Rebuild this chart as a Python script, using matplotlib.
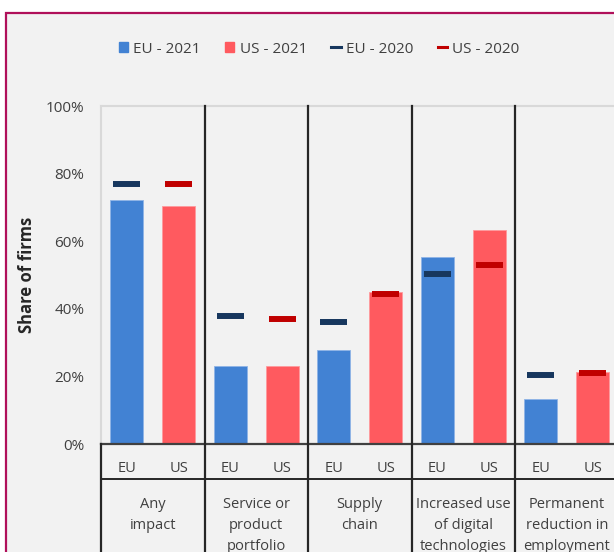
import matplotlib.pyplot as plt
import matplotlib.transforms as mtransforms
from matplotlib.patches import Patch, Rectangle
from matplotlib.lines import Line2D

groups = ["Any\nimpact", "Service or\nproduct\nportfolio", "Supply\nchain",
          "Increased use\nof digital\ntechnologies", "Permanent\nreduction in\nemployment"]
regions = ["EU", "US"]
eu_2021 = [72.2, 23.0, 27.8, 55.2, 13.2]
us_2021 = [70.3, 23.0, 45.0, 63.3, 21.3]
eu_2020 = [76.9, 37.9, 36.2, 50.3, 20.3]
us_2020 = [77.0, 37.0, 44.3, 53.0, 21.0]

c_eu21 = "#4282d3"
c_us21 = "#ff5a5f"
c_eu20 = "#17375e"
c_us20 = "#c00000"
bg = "#f2f2f2"
txt = "#404040"

plt.rcParams['font.family'] = ['Open Sans', 'DejaVu Sans']

W, H = 614, 552
fig = plt.figure(figsize=(W / 100, H / 100), dpi=100, facecolor="white")

# grey panel with the coloured frame (cropped at right / bottom)
fig.patches.append(Rectangle((5.5 / W, -0.1), 1.2, 1 - 12.5 / H + 0.1, transform=fig.transFigure,
                             facecolor=bg, edgecolor="#b0105a", lw=1.6, zorder=-10))

ax = fig.add_axes([101 / W, (H - 444) / H, (618.5 - 101) / W, (444 - 106) / H])
ax.set_facecolor(bg)

n = len(groups)
xe = [i + 0.25 for i in range(n)]
xu = [i + 0.75 for i in range(n)]
bw = 0.32
mw = 0.26

ax.bar(xe, eu_2021, bw, color=c_eu21, edgecolor="#8fb4e6", lw=0.6, zorder=2)
ax.bar(xu, us_2021, bw, color=c_us21, edgecolor="#ff9a9d", lw=0.6, zorder=2)
ax.hlines(eu_2020, [x - mw / 2 for x in xe], [x + mw / 2 for x in xe], color=c_eu20, lw=4.3, zorder=3)
ax.hlines(us_2020, [x - mw / 2 for x in xu], [x + mw / 2 for x in xu], color=c_us20, lw=4.3, zorder=3)

ax.set_xlim(0, n)
ax.set_ylim(0, 100)
ax.set_yticks(range(0, 101, 20))
ax.set_yticklabels([f"{v}%" for v in range(0, 101, 20)], color=txt, fontsize=11)
ax.tick_params(axis="y", length=0, pad=12)
ax.set_xticks([])

for s in ["top", "left", "right"]:
    ax.spines[s].set_color("#d9d9d9")
    ax.spines[s].set_linewidth(1.5)
ax.spines["bottom"].set_color("#404040")
ax.spines["bottom"].set_linewidth(1.6)

fig.text(27 / W, 1 - 275 / H, "Share of firms", rotation=90, ha="center", va="center",
         fontsize=12, fontweight="bold", color="#262626")

trans = mtransforms.blended_transform_factory(ax.transData, ax.transAxes)
# group separators, running through the category axis
for i in range(1, n + 1):
    ax.plot([i, i], [-0.6, 1], transform=trans, color="#262626", lw=1.6, clip_on=False, zorder=4)
ax.plot([0, 0], [-0.6, 0], transform=trans, color="#262626", lw=1.6, clip_on=False, zorder=4)
ax.plot([0, n + 0.5], [-0.1036, -0.1036], transform=trans, color="#262626", lw=1.4, clip_on=False)

for i in range(n):
    ax.text(xe[i], -0.072, regions[0], transform=trans, ha="center", va="center", fontsize=10.5, color=txt)
    ax.text(xu[i], -0.072, regions[1], transform=trans, ha="center", va="center", fontsize=10.5, color=txt)
    ax.text(i + 0.5, -0.156, groups[i], transform=trans, ha="center", va="top", fontsize=10.5,
            color=txt, linespacing=1.55)

handles = [Patch(color=c_eu21), Patch(color=c_us21),
           Line2D([], [], color=c_eu20, lw=2.2), Line2D([], [], color=c_us20, lw=2.2)]
labels = ["EU - 2021", "US - 2021", "EU - 2020", "US - 2020"]
leg = fig.legend(handles, labels, loc="center", bbox_to_anchor=(319 / W, 1 - 49 / H), ncol=4,
                 frameon=False, fontsize=11, handlelength=0.6, handleheight=0.6,
                 handletextpad=0.35, columnspacing=1.6, labelcolor=txt)

fig.savefig("out.png", dpi=100, facecolor="white")
